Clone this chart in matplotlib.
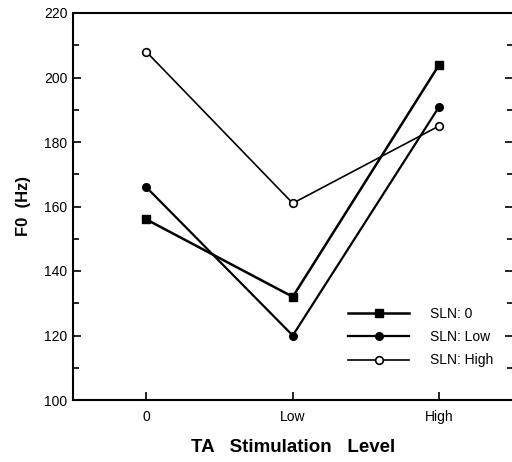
import matplotlib.pyplot as plt
from matplotlib.ticker import MultipleLocator
from matplotlib.lines import Line2D

plt.rcParams['font.family'] = ['Liberation Sans', 'DejaVu Sans']

# F0 by TA stimulation level, one series per SLN level
levels = ['0', 'Low', 'High']
f0_sln_0 = [156, 132, 204]
f0_sln_low = [166, 120, 191]
f0_sln_high = [208, 161, 185]

fig = plt.figure(figsize=(5.12, 4.62), dpi=100)
ax = fig.add_axes([73 / 512, 62 / 462, 439.5 / 512, 387 / 462])

x = list(range(len(levels)))
ax.plot(x, f0_sln_0, color='black', lw=1.8, marker='s', ms=5.5, mfc='black')
ax.plot(x, f0_sln_low, color='black', lw=1.6, marker='o', ms=5.5, mfc='black')
ax.plot(x, f0_sln_high, color='black', lw=1.2, marker='o', ms=5.5, mfc='white', mew=1.2)

ax.set_xlim(-0.5, 2.5)
ax.set_ylim(100, 220)
ax.set_xticks(x)
ax.set_xticklabels(levels)
ax.yaxis.set_major_locator(MultipleLocator(20))
ax.yaxis.set_minor_locator(MultipleLocator(10))

ax.spines['right'].set_visible(False)
for side in ['left', 'top', 'bottom']:
    ax.spines[side].set_linewidth(1.5)
ax.tick_params(axis='y', which='both', direction='in', right=True, labelsize=10, pad=4)
ax.tick_params(axis='y', which='major', length=6, width=1.2)
ax.tick_params(axis='y', which='minor', length=4, width=1.2)
ax.tick_params(axis='x', direction='in', length=6, width=1.2, labelsize=10, pad=7)

ax.set_ylabel('F0  (Hz)', fontsize=12, fontweight='bold', labelpad=9)
ax.set_xlabel('TA   Stimulation   Level', fontsize=13.5, fontweight='bold', labelpad=11)

handles = [
    Line2D([], [], color='black', lw=1.8, marker='s', ms=5.5, mfc='black'),
    Line2D([], [], color='black', lw=1.6, marker='o', ms=5.5, mfc='black'),
    Line2D([], [], color='black', lw=1.2, marker='o', ms=5.5, mfc='white', mew=1.2),
]
ax.legend(handles, ['SLN: 0', 'SLN: Low', 'SLN: High'], frameon=False,
          fontsize=10, handlelength=4.4, handletextpad=1.5, labelspacing=0.65,
          loc='lower right', bbox_to_anchor=(0.985, 0.052))

fig.savefig('out.png', dpi=100)
